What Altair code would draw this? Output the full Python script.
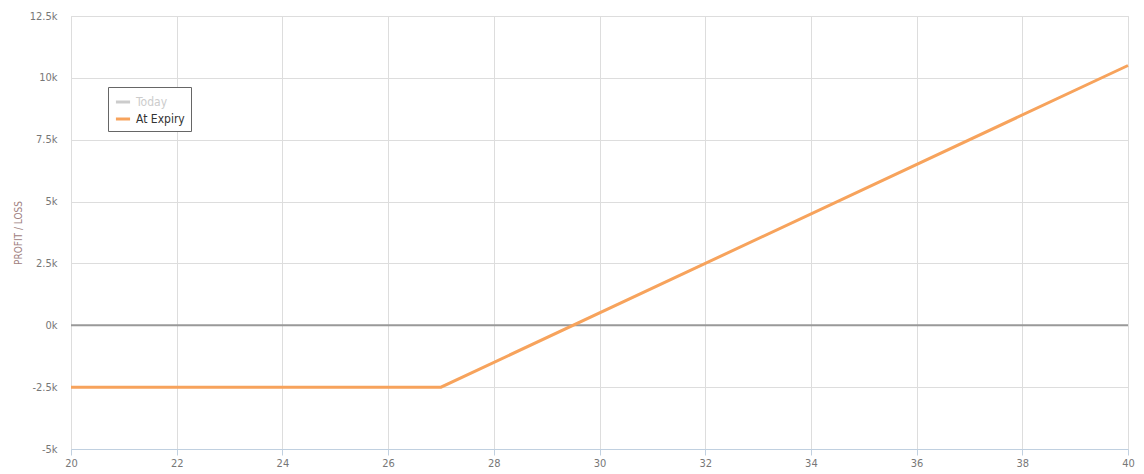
import altair as alt
import pandas as pd

price = [20, 27, 40]
pnl = [-2500, -2500, 10500]
series_names = ["Today", "At Expiry"]
series_colors = ["#cccccc", "#f7a35c"]
x_ticks = [20, 22, 24, 26, 28, 30, 32, 34, 36, 38, 40]
y_ticks = [-5000, -2500, 0, 2500, 5000, 7500, 10000, 12500]

df = pd.DataFrame({"price": price, "pnl": pnl, "series": ["At Expiry"] * len(price)})
zero = pd.DataFrame({"y": [0]})

FONT = "'DejaVu Sans Condensed', Roboto, sans-serif"

color = alt.Color(
    "series:N",
    scale=alt.Scale(domain=series_names, range=series_colors),
    legend=alt.Legend(
        title=None,
        orient="none",
        legendX=37,
        legendY=71,
        symbolType="stroke",
        symbolStrokeWidth=3,
        symbolSize=200,
        strokeColor="#666666",
        fillColor="white",
        padding=6,
        labelFont=FONT,
        labelFontSize=12,
        labelColor={"expr": "datum.value == 'Today' ? '#cccccc' : '#333333'"},
        rowPadding=2,
    ),
)

x = alt.X(
    "price:Q",
    scale=alt.Scale(domain=[20, 40], nice=False, zero=False),
    axis=alt.Axis(
        values=x_ticks,
        title=None,
        grid=True,
        gridColor="#dddddd",
        domainColor="#c0d0e0",
        tickColor="#c0d0e0",
        tickSize=6,
        labelColor="#777777",
        labelFont=FONT,
        labelFontSize=11,
        labelPadding=2,
        labelFlush=False,
        labelOverlap=False,
    ),
)
y = alt.Y(
    "pnl:Q",
    scale=alt.Scale(domain=[-5000, 12500], nice=False),
    axis=alt.Axis(
        values=y_ticks,
        title="PROFIT / LOSS",
        titleFont=FONT,
        titleFontSize=10,
        titleFontWeight="normal",
        titleColor="#a08080",
        titlePadding=6,
        labelExpr="datum.value / 1000 + 'k'",
        grid=True,
        gridColor="#dddddd",
        domain=False,
        ticks=False,
        labelColor="#777777",
        labelFont=FONT,
        labelFontSize=11,
        labelPadding=14,
        labelFlush=False,
    ),
)

line = alt.Chart(df).mark_line(strokeWidth=3).encode(x=x, y=y, color=color)
rule = alt.Chart(zero).mark_rule(color="#999999", strokeWidth=2).encode(y=alt.Y("y:Q"))

chart = (
    alt.layer(rule, line)
    .properties(
        width=1057,
        height=433,
        autosize=alt.AutoSizeParams(type="none"),
        padding={"left": 63, "top": 8, "right": 8, "bottom": 20},
    )
    .configure_view(stroke=None)
    .configure(background="white")
)

chart.save("out.html", embed_options={"renderer": "svg", "actions": False})
